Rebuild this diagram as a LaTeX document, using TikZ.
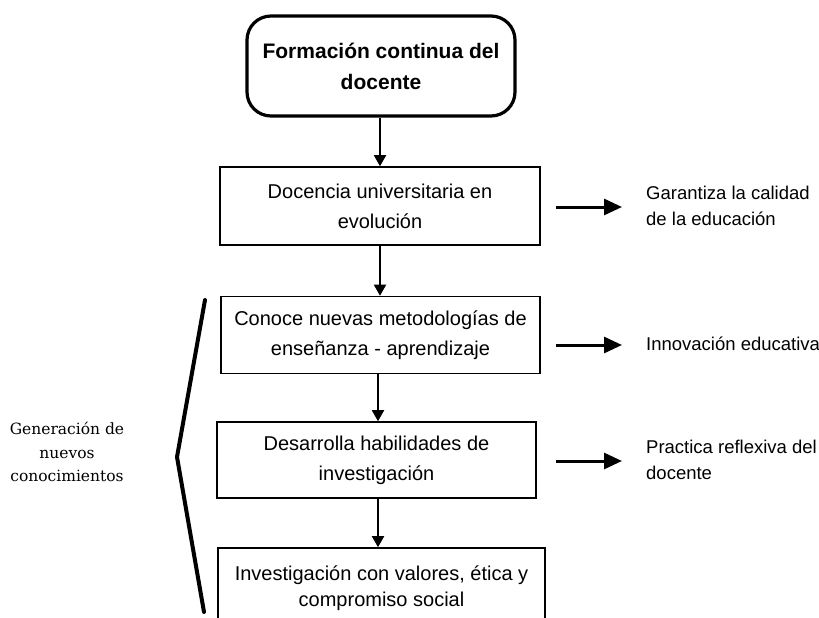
\documentclass[tikz,border=0pt]{standalone}
\usepackage{fontspec}
\setmainfont{Liberation Sans}
\newfontfamily\slabfont{DejaVu Serif}
\usetikzlibrary{arrows.meta}
\begin{document}
\begin{tikzpicture}[x=1pt,y=-1pt,
  stepbox/.style={draw=black,line width=1.6pt,align=center,inner sep=0pt,font=\fontsize{20}{30}\selectfont},
  topbox/.style={draw=black,line width=3.2pt,rounded corners=24pt,align=center,inner sep=0pt,font=\bfseries\fontsize{21}{31}\selectfont},
  downarrow/.style={line width=1.8pt,-{Triangle[length=11pt,width=12pt]}},
  sidearrow/.style={line width=3pt,-{Triangle[length=18pt,width=16pt]}},
  sidetext/.style={anchor=west,align=left,inner sep=0pt,font=\fontsize{18.5}{25.5}\selectfont},
  bracket/.style={line width=4pt,line cap=round,line join=round}]
\useasboundingbox (0,0) rectangle (819,618);
\clip (0,0) rectangle (819,618);
\node[topbox,minimum width=268pt,minimum height=100pt] (top) at (381,66) {Formación continua del\\docente};
\node[stepbox,minimum width=320pt,minimum height=78pt] (b1) at (380,206) {Docencia universitaria en\\evolución};
\node[stepbox,minimum width=319pt,minimum height=77pt] (b2) at (380.5,335) {Conoce nuevas metodologías de\\enseñanza - aprendizaje};
\node[stepbox,minimum width=319pt,minimum height=76pt] (b3) at (376.5,460) {Desarrolla habilidades de\\investigación};
\node[stepbox,minimum width=327pt,minimum height=90pt] (b4) at (381.5,593) {};
\node[align=center,inner sep=0pt,font=\fontsize{20}{26}\selectfont] (b4t) at (381.5,588) {Investigación con valores, ética y\\compromiso social};
\draw[downarrow] (top.south -| 380,0) -- (b1.north -| 380,0);
\draw[downarrow] (b1.south -| 380,0) -- (b2.north -| 380,0);
\draw[downarrow] (b2.south -| 378,0) -- (b3.north -| 378,0);
\draw[downarrow] (b3.south -| 378,0) -- (b4.north -| 378,0);
\coordinate (a1s) at (556,207); \coordinate (a1e) at (622,207);
\coordinate (a2s) at (556,345); \coordinate (a2e) at (622,345);
\coordinate (a3s) at (556,461); \coordinate (a3e) at (622,461);
\draw[sidearrow] (a1s) -- (a1e);
\draw[sidearrow] (a2s) -- (a2e);
\draw[sidearrow] (a3s) -- (a3e);
\node[sidetext] (t1) at (646,206) {Garantiza la calidad\\de la educación};
\node[sidetext] (t2) at (646,344) {Innovación educativa};
\node[sidetext] (t3) at (646,460) {Practica reflexiva del\\docente};
\coordinate (k1) at (205,300); \coordinate (k2) at (177,457); \coordinate (k3) at (204,612);
\draw[bracket] (k1) -- (k2) -- (k3);
\node[align=center,inner sep=0pt,font=\slabfont\fontsize{15.5}{23.5}\selectfont] (gen) at (67,452) {Generación de\\nuevos\\conocimientos};
\end{tikzpicture}
\end{document}
